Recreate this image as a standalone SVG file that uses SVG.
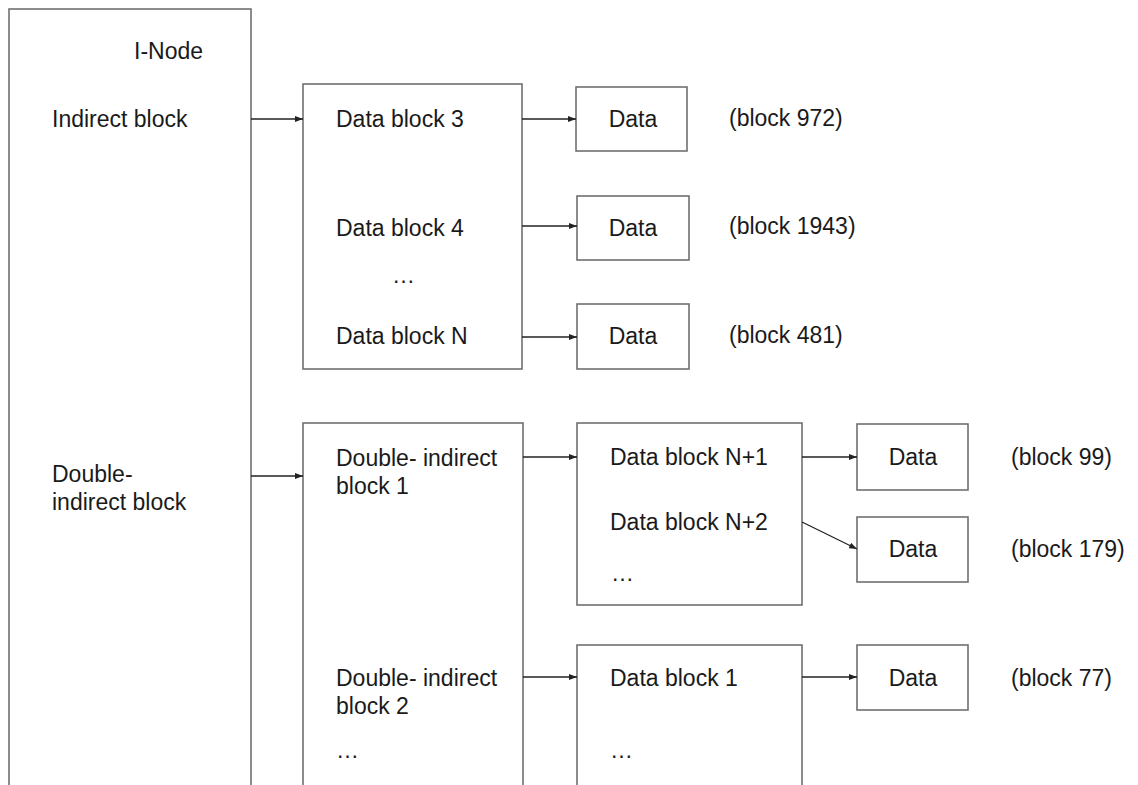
<svg xmlns="http://www.w3.org/2000/svg" width="1138" height="785" viewBox="0 0 1138 785">
<style>
.box{fill:#fff;stroke:#707070;stroke-width:1.6}
.t{font-family:"Liberation Sans",Arial,sans-serif;font-size:23px;fill:#1a1a1a}
.m{text-anchor:middle}
.c{stroke:#222;stroke-width:1.3;fill:none;marker-end:url(#ah)}
</style>
<defs>
<marker id="ah" markerWidth="8" markerHeight="6" refX="8" refY="3" orient="auto" markerUnits="userSpaceOnUse">
<path d="M0,0 L8,3 L0,6 Z" fill="#222"/>
</marker>
</defs>
<rect width="1138" height="785" fill="#fff"/>
<g id="inode">
<rect class="box" x="9" y="9" width="242" height="800"/>
<text class="t" x="134" y="59">I-Node</text>
<text class="t" x="52" y="127">Indirect block</text>
<text class="t" x="52" y="482">Double-</text>
<text class="t" x="52" y="510">indirect block</text>
</g>
<g id="indirect">
<rect class="box" x="303" y="84" width="219" height="285"/>
<text class="t" x="336" y="127">Data block 3</text>
<text class="t" x="336" y="236">Data block 4</text>
<text class="t" x="392" y="283">…</text>
<text class="t" x="336" y="344">Data block N</text>
</g>
<g id="data972"><rect class="box" x="576" y="87" width="111" height="64"/><text class="t m" x="633" y="127">Data</text></g>
<g id="data1943"><rect class="box" x="577" y="196" width="112" height="64"/><text class="t m" x="633" y="236">Data</text></g>
<g id="data481"><rect class="box" x="577" y="304" width="112" height="65"/><text class="t m" x="633" y="344">Data</text></g>
<g id="labels-top">
<text class="t" x="729" y="126">(block 972)</text>
<text class="t" x="729" y="234">(block 1943)</text>
<text class="t" x="729" y="343">(block 481)</text>
</g>
<g id="double">
<rect class="box" x="303" y="423" width="220" height="400"/>
<text class="t" x="336" y="466">Double- indirect</text>
<text class="t" x="336" y="494">block 1</text>
<text class="t" x="336" y="686">Double- indirect</text>
<text class="t" x="336" y="714">block 2</text>
<text class="t" x="336" y="758">…</text>
</g>
<g id="dbN">
<rect class="box" x="577" y="423" width="225" height="182"/>
<text class="t" x="610" y="465">Data block N+1</text>
<text class="t" x="610" y="530">Data block N+2</text>
<text class="t" x="611" y="581">…</text>
</g>
<g id="db1">
<rect class="box" x="577" y="645" width="225" height="200"/>
<text class="t" x="610" y="686">Data block 1</text>
<text class="t" x="610" y="758">…</text>
</g>
<g id="data99"><rect class="box" x="857" y="424" width="111" height="66"/><text class="t m" x="913" y="465">Data</text></g>
<g id="data179"><rect class="box" x="857" y="517" width="111" height="65"/><text class="t m" x="913" y="557">Data</text></g>
<g id="data77"><rect class="box" x="857" y="645" width="111" height="65"/><text class="t m" x="913" y="686">Data</text></g>
<g id="labels-bottom">
<text class="t" x="1011" y="465">(block 99)</text>
<text class="t" x="1011" y="557">(block 179)</text>
<text class="t" x="1011" y="686">(block 77)</text>
</g>
<g id="connectors">
<line class="c" x1="251" y1="119" x2="303" y2="119"/>
<line class="c" x1="522" y1="119" x2="576" y2="119"/>
<line class="c" x1="522" y1="226" x2="577" y2="226"/>
<line class="c" x1="522" y1="337" x2="577" y2="337"/>
<line class="c" x1="251" y1="476" x2="303" y2="476"/>
<line class="c" x1="523" y1="457" x2="577" y2="457"/>
<line class="c" x1="802" y1="457" x2="857" y2="457"/>
<line class="c" x1="802" y1="522" x2="857" y2="549"/>
<line class="c" x1="523" y1="677" x2="577" y2="677"/>
<line class="c" x1="802" y1="677" x2="857" y2="677"/>
</g>
</svg>
